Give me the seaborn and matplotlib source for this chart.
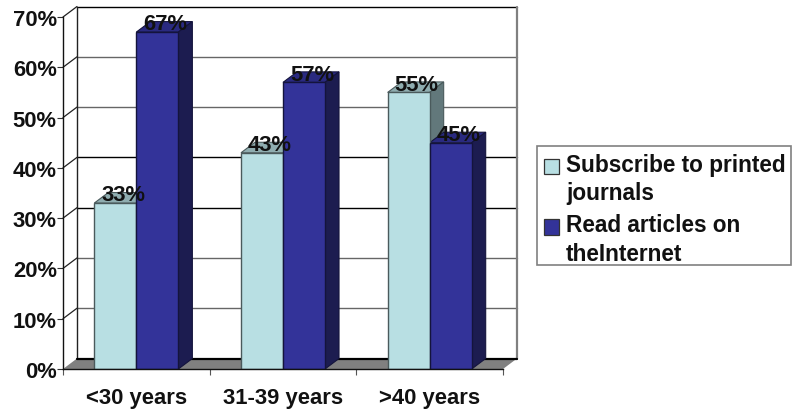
import matplotlib
matplotlib.use("Agg")
import matplotlib.pyplot as plt
import pandas as pd
import seaborn as sns
from matplotlib.patches import Polygon, Rectangle

groups = ["<30 years", "31-39 years", ">40 years"]
print_share = [33, 43, 55]
online_share = [67, 57, 45]
y_ticks = [0, 10, 20, 30, 40, 50, 60, 70]
series_names = ["Subscribe to printed\njournals", "Read articles on\ntheInternet"]

df = pd.DataFrame({
    "group": groups * 2,
    "share": print_share + online_share,
    "series": [series_names[0]] * 3 + [series_names[1]] * 3,
})

sns.set_style("white")
plt.rcParams["font.family"] = ["Liberation Sans", "DejaVu Sans"]
plt.rcParams["font.weight"] = "bold"

W, H = 792, 414
fig = plt.figure(figsize=(W / 100, H / 100), dpi=100)
ax = fig.add_axes([63 / W, 1 - 370 / H, 440 / W, 352 / H])

# fake 3d depth, in data units
dx = 14 / (440 / 3)
dy = 10.5 / (352 / 70)

colors = ["#B8DFE3", "#333399"]
tops = ["#8FADB0", "#2A2A80"]
sides = ["#62787B", "#1C1C50"]
edges = ["#4A5A5C", "#14143C"]

sns.barplot(data=df, x="group", y="share", hue="series", hue_order=series_names,
            palette=colors, saturation=1, width=0.573, gap=0, ax=ax, zorder=3)

ax.set_xlim(-0.5, 2.5)
ax.set_ylim(0, 70)
x0, x1 = ax.get_xlim()

# back wall and floor
for t in y_ticks[1:]:
    ax.plot([x0, x0 + dx], [t, t + dy], color="#222222", lw=0.9, clip_on=False, zorder=1)
    ax.plot([x0 + dx, x1 + dx], [t + dy, t + dy],
            color="#000000" if t in (30, 40, 70) else "#666666", lw=1.0, clip_on=False, zorder=1)
ax.plot([x0 + dx, x0 + dx], [dy, 70 + dy], color="#222222", lw=1.0, clip_on=False, zorder=1)
ax.plot([x1 + dx, x1 + dx], [dy, 70 + dy], color="#808080", lw=1.6, clip_on=False, zorder=1)
ax.add_patch(Polygon([(x0, 0), (x1, 0), (x1 + dx, dy), (x0 + dx, dy)], closed=True,
                     facecolor="#808080", edgecolor="none", clip_on=False, zorder=1.5))
ax.plot([x0 + dx, x1 + dx], [dy, dy], color="#000000", lw=1.6, clip_on=False, zorder=1.6)

# bar sides and tops
for i, cont in enumerate(ax.containers):
    for bar in cont:
        l, r, h = bar.get_x(), bar.get_x() + bar.get_width(), bar.get_height()
        bar.set_edgecolor(edges[i])
        bar.set_linewidth(1.0)
        ax.add_patch(Polygon([(l, h), (r, h), (r + dx, h + dy), (l + dx, h + dy)], closed=True,
                             facecolor=tops[i], edgecolor=edges[i], lw=0.8, clip_on=False, zorder=2.5))
        ax.add_patch(Polygon([(r, 0), (r + dx, dy), (r + dx, h + dy), (r, h)], closed=True,
                             facecolor=sides[i], edgecolor=edges[i], lw=0.8, clip_on=False, zorder=2.5))
        ax.annotate(f"{h:.0f}%", (l + (r - l) / 2, h), xytext=(5.8, 6), textcoords="offset points",
                    ha="center", va="center", fontsize=15.8, fontweight="bold", color="#111111",
                    annotation_clip=False, zorder=5)

sns.despine(ax=ax)
for s in ["left", "bottom"]:
    ax.spines[s].set_color("#111111")
    ax.spines[s].set_linewidth(1.0)
    ax.spines[s].set_zorder(4)

ax.set_xlabel("")
ax.set_ylabel("")
ax.set_yticks(y_ticks)
ax.set_yticklabels([f"{t}%" for t in y_ticks], fontsize=15.8, fontweight="bold", color="#111111")
ax.set_xticks([0, 1, 2])
ax.set_xticklabels(groups, fontsize=15.8, fontweight="bold", color="#111111")
ax.tick_params(axis="y", left=True, length=4, width=0.8, pad=0.5, color="#333333")
ax.tick_params(axis="x", bottom=False, pad=9.5)
# tick marks sit between the groups
ax.set_xticks([x0, x0 + 1, x0 + 2, x1], minor=True)
ax.tick_params(axis="x", which="minor", bottom=True, length=4.5, width=0.8, color="#555555")

handles, labels = ax.get_legend_handles_labels()
leg = ax.legend(handles, labels, loc="upper left", bbox_to_anchor=(537 / W, 1 - 147 / H),
                bbox_transform=fig.transFigure, borderaxespad=0, frameon=False,
                fontsize=16.3, borderpad=0.3, handlelength=0.68, handleheight=0.68,
                handletextpad=0.3, labelspacing=0.41)
for t in leg.get_texts():
    t.set_fontweight("bold")
    t.set_color("#111111")
    t.set_linespacing(1.3)
# markers line up with the first text line
for h in leg.legend_handles:
    h.set_y(h.get_y() + 9.5)
    h.set_edgecolor("#333333")
    h.set_linewidth(0.9)

# legend box is shorter than the text block wants, so draw it by hand
fig.add_artist(Rectangle((537 / W, 1 - 266 / H), 254 / W, 119 / H, transform=fig.transFigure,
                         facecolor="white", edgecolor="#808080", lw=1.2, zorder=-1))

fig.savefig("out.png", dpi=100)
